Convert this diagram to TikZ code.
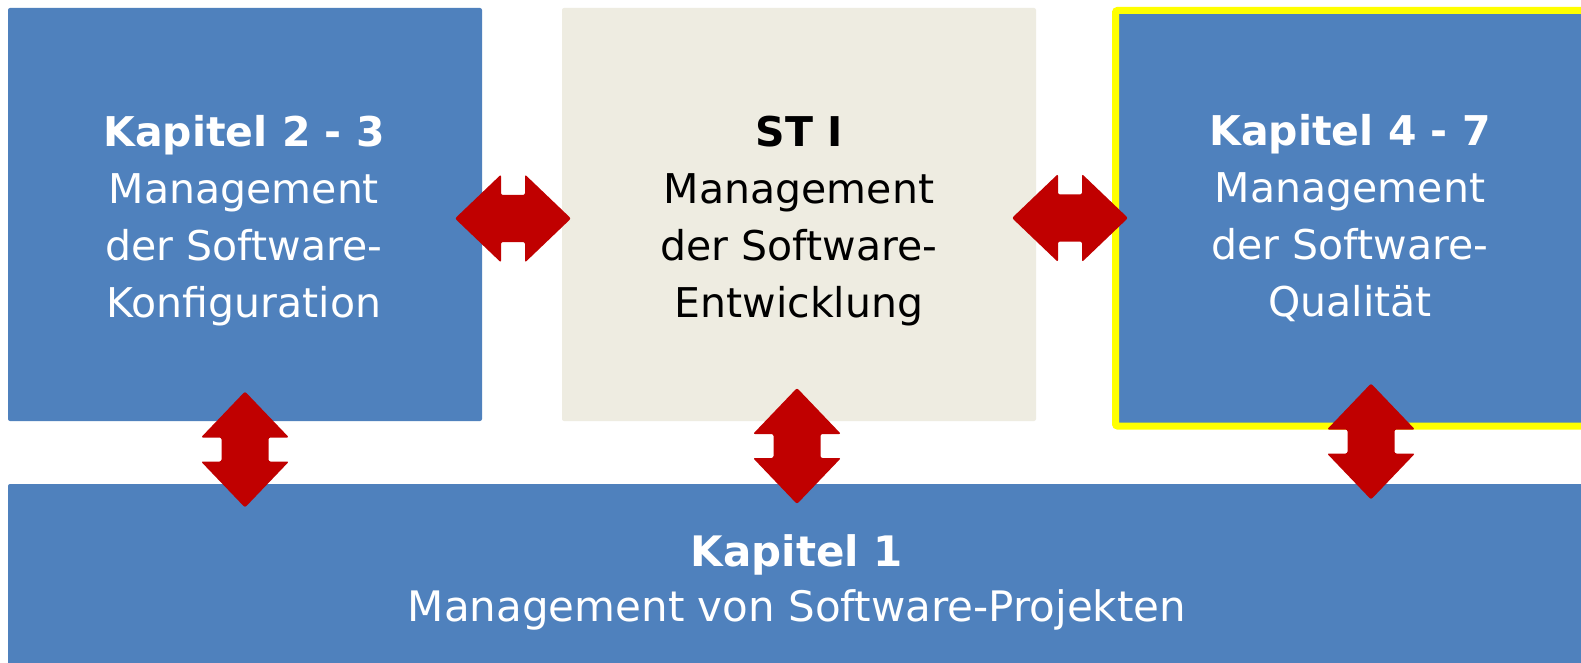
\documentclass[tikz,border=0pt]{standalone}
\usepackage{fontspec}
\setmainfont{DejaVu Sans}
\definecolor{boxblue}{HTML}{4F81BD}
\definecolor{boxbeige}{HTML}{EEECE1}
\definecolor{arrowred}{HTML}{C00000}
\definecolor{frameyellow}{HTML}{FFFF00}
\begin{document}
\begin{tikzpicture}[x=1pt,y=-1pt,
  box/.style={rectangle, rounded corners=2pt, inner sep=0pt},
  bluebox/.style={box, fill=boxblue},
  beigebox/.style={box, fill=boxbeige},
  txt/.style={inner sep=0pt, align=center, font=\fontsize{41}{57}\selectfont},
  dblarrow/.pic={\fill[arrowred, rounded corners=2pt]
    (-58,0) -- (-12,44) -- (-12,23.5) -- (12,23.5) -- (12,44) -- (58,0)
    -- (12,-44) -- (12,-23.5) -- (-12,-23.5) -- (-12,-44) -- cycle;}]
\useasboundingbox (0,0) rectangle (1581,663);
\fill[white] (0,0) rectangle (1581,663);

\node[bluebox, minimum width=474pt, minimum height=413pt] (k23) at (245,214.5) {};
\node[txt, text=white] (k23t) at (244,221)
  {\textbf{Kapitel 2 - 3}\\Management\\der Software-\\Konfiguration};
\node[beigebox, minimum width=474pt, minimum height=413pt] (st1) at (799,214.5) {};
\node[txt, text=black] (st1t) at (799,221)
  {\textbf{ST I}\\Management\\der Software-\\Entwicklung};
\node[bluebox, draw=frameyellow, line width=7pt, minimum width=471pt, minimum height=415.5pt] (k47) at (1351,218.25) {};
\node[txt, text=white] (k47t) at (1350,218)
  {\textbf{Kapitel 4 - 7}\\Management\\der Software-\\Qualität};
\node[bluebox, minimum width=1578pt, minimum height=208pt] (k1) at (797,588) {};
\node[txt, text=white, font=\fontsize{42}{55}\selectfont] (k1t) at (797,582)
  {\textbf{Kapitel 1}\\Management von Software-Projekten};

\pic at (513,218.5) {dblarrow};
\pic at (1070,218) {dblarrow};
\pic[rotate=90] at (245,449.5) {dblarrow};
\pic[rotate=90] at (797,446) {dblarrow};
\pic[rotate=90] at (1371,441.5) {dblarrow};
\end{tikzpicture}
\end{document}
